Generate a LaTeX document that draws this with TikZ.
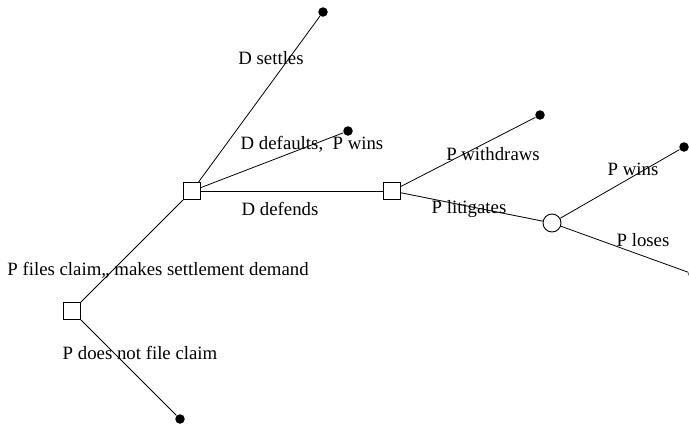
\documentclass[tikz,border=0pt]{standalone}
\usepackage{fontspec}
\setmainfont{Liberation Serif}
\usetikzlibrary{shapes.geometric}

\tikzset{decision/.style = {draw=black,shape=rectangle,minimum size=17pt,inner sep=0pt,line width=0.9pt},
         chance/.style = {draw=black,shape=circle,minimum size=18pt,inner sep=0pt,line width=0.9pt},
         leaf/.style = {fill=black,shape=circle,minimum size=9.5pt,inner sep=0pt},
         branch/.style = {font=\fontsize{18.8}{22}\selectfont,inner sep=0pt}}

\begin{document}
\begin{tikzpicture}[x=1pt,y=-1pt,line width=0.8pt]
		\useasboundingbox (0,0) rectangle (689,426);
		% decision and chance nodes
		\node[decision] (root) at (72,311) {};
		\node[decision] (resp) at (192,191) {};
		\node[decision] (trial) at (392,191) {};
		\node[chance] (court) at (552,223) {};
		% outcomes
		\node[leaf] (nofile) at (180,419) {};
		\node[leaf] (settle) at (323,12) {};
		\node[leaf] (default) at (348,131) {};
		\node[leaf] (withdraw) at (540,115) {};
		\node[leaf] (pwin) at (684,147) {};
		\node[leaf] (plose) at (693,274) {};
		% branches
		\draw (root) -- (resp);
		\draw (root) -- (nofile);
		\draw (resp) -- (settle);
		\draw (resp) -- (default);
		\draw (resp) -- (trial);
		\draw (trial) -- (withdraw);
		\draw (trial) -- (court);
		\draw (court) -- (pwin);
		\draw (court) -- (plose);
		% labels
		\node[branch] (lfile) at (158,270) {P files claim,, makes settlement demand};
		\node[branch] (lnofile) at (140,353) {P does not file claim};
		\node[branch] (lsettle) at (271,58) {D settles};
		\node[branch] (ldefault) at (312,144) {D defaults,\ \ P wins};
		\node[branch] (ldefend) at (280,209) {D defends};
		\node[branch] (lwithdraw) at (493,154) {P withdraws};
		\node[branch] (llitigate) at (469,209) {P litigates};
		\node[branch] (lpwin) at (633,169) {P wins};
		\node[branch] (lplose) at (643,240) {P loses};
	\end{tikzpicture}
\end{document}
